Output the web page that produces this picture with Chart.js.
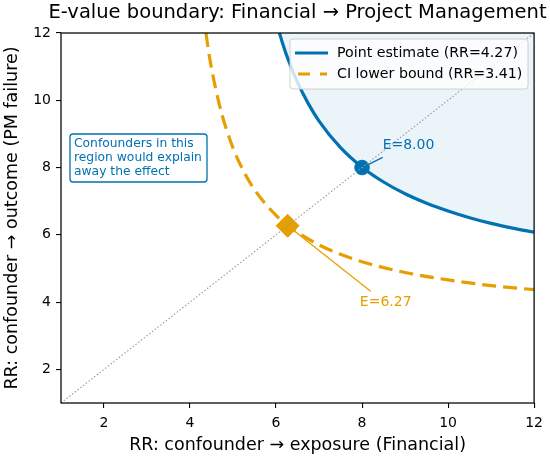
<!DOCTYPE html>
<html>
<head>
<meta charset="utf-8">
<script src="https://cdn.jsdelivr.net/npm/chart.js@4"></script>
<style>
  html, body { margin: 0; padding: 0; background: #fff; }
  #wrap { width: 550px; height: 458px; }
</style>
</head>
<body>
<div id="wrap"><canvas id="evalueChart"></canvas></div>
<script>
// values
const xTicks = [2, 4, 6, 8, 10, 12];
const yTicks = [2, 4, 6, 8, 10, 12];

const pointX = [6.08, 6.15, 6.25, 6.5, 6.75, 7, 7.5, 8, 8.5, 9, 9.5, 10, 10.5, 11, 11.5, 12];
const pointY = [12, 11.70, 11.32, 10.53, 9.90, 9.38, 8.59, 8.01, 7.57, 7.22, 6.94, 6.71, 6.51, 6.34, 6.20, 6.08];

const ciX = [4.37, 4.45, 4.5, 4.6, 4.75, 5, 5.25, 5.5, 6, 6.27, 6.5, 7, 7.5, 8, 9, 10, 11, 12];
const ciY = [12, 11.31, 10.95, 10.32, 9.54, 8.58, 7.88, 7.34, 6.58, 6.28, 6.07, 5.70, 5.42, 5.20, 4.88, 4.66, 4.49, 4.37];

const diagonal = [1, 12];
const eValues = [8.00, 6.27];           // point estimate, CI lower bound
const eLabels = ['E=8.00', 'E=6.27'];
const eLabelPos = [[9.08, 8.66], [8.55, 4.0]];
const eLeaderEnd = [[8.48, 8.3], [8.2, 4.32]];

const blue = '#0072B2';
const orange = '#E69F00';
const fontFamily = 'DejaVu Sans';

function pairs(xs, ys) {
  return xs.map((x, i) => ({ x: x, y: ys[i] }));
}

// legend, annotations, frame and title drawn on top
const overlay = {
  id: 'overlay',
  afterDraw(chart) {
    const ctx = chart.ctx;
    const a = chart.chartArea;
    const xs = chart.scales.x, ys = chart.scales.y;
    ctx.save();

    // frame
    ctx.strokeStyle = '#000';
    ctx.lineWidth = 1.25;
    ctx.strokeRect(a.left, a.top, a.right - a.left, a.bottom - a.top);

    // title
    ctx.fillStyle = '#000';
    ctx.font = '19.5px ' + fontFamily;
    ctx.textAlign = 'center';
    ctx.textBaseline = 'middle';
    ctx.fillText('E-value boundary: Financial \u2192 Project Management', (a.left + a.right) / 2, 13);

    // E-value labels
    ctx.font = '14px ' + fontFamily;
    ctx.fillStyle = blue;
    ctx.fillText(eLabels[0], xs.getPixelForValue(eLabelPos[0][0]), ys.getPixelForValue(eLabelPos[0][1]));
    ctx.fillStyle = orange;
    ctx.fillText(eLabels[1], xs.getPixelForValue(eLabelPos[1][0]), ys.getPixelForValue(eLabelPos[1][1]));

    // text box
    const bx = a.left + 9, by = a.top + 101, bw = 137, bh = 48;
    ctx.beginPath();
    ctx.roundRect(bx, by, bw, bh, 3);
    ctx.fillStyle = '#fff';
    ctx.fill();
    ctx.strokeStyle = blue;
    ctx.lineWidth = 1.3;
    ctx.stroke();
    ctx.fillStyle = blue;
    ctx.font = '12.3px ' + fontFamily;
    ctx.textAlign = 'left';
    ['Confounders in this', 'region would explain', 'away the effect'].forEach((t, i) => {
      ctx.fillText(t, bx + 4, by + 10 + i * 14);
    });

    // legend
    const lx = a.left + 229, ly = a.top + 6, lw = 238, lh = 50;
    ctx.beginPath();
    ctx.roundRect(lx, ly, lw, lh, 3);
    ctx.fillStyle = 'rgba(255,255,255,0.8)';
    ctx.fill();
    ctx.strokeStyle = '#d0d0d0';
    ctx.lineWidth = 1;
    ctx.stroke();
    ctx.lineWidth = 3;
    ctx.lineCap = 'butt';
    ctx.strokeStyle = blue;
    ctx.beginPath();
    ctx.moveTo(lx + 5, ly + 14); ctx.lineTo(lx + 38, ly + 14);
    ctx.stroke();
    ctx.strokeStyle = orange;
    ctx.setLineDash([12, 10]);
    ctx.beginPath();
    ctx.moveTo(lx + 8, ly + 35); ctx.lineTo(lx + 37, ly + 35);
    ctx.stroke();
    ctx.setLineDash([]);
    ctx.fillStyle = '#000';
    ctx.font = '14.2px ' + fontFamily;
    ctx.fillText('Point estimate (RR=4.27)', lx + 47, ly + 14);
    ctx.fillText('CI lower bound (RR=3.41)', lx + 47, ly + 35);

    ctx.restore();
  }
};

const axisCommon = (ticks, title) => ({
  type: 'linear',
  min: 1,
  max: 12,
  afterBuildTicks: s => { s.ticks = ticks.map(v => ({ value: v })); },
  grid: { drawOnChartArea: false, drawTicks: true, tickLength: 5, color: '#000', lineWidth: 1.1 },
  border: { display: false },
  ticks: { color: '#000', font: { family: fontFamily, size: 14 }, padding: 5, maxRotation: 0 },
  title: { display: true, text: title, color: '#000', font: { family: fontFamily, size: 17.5 }, padding: { top: 2, bottom: 2 } }
});

const xAxis = axisCommon(xTicks, 'RR: confounder \u2192 exposure (Financial)');
xAxis.ticks.padding = 7;
xAxis.afterFit = s => { s.height = 55; };
const yAxis = axisCommon(yTicks, 'RR: confounder \u2192 outcome (PM failure)');
yAxis.afterFit = s => { s.width = 61; };

new Chart(document.getElementById('evalueChart'), {
  type: 'scatter',
  data: {
    datasets: [
      {
        label: 'diagonal',
        data: pairs(diagonal, diagonal),
        showLine: true,
        borderColor: '#999999',
        borderWidth: 1.1,
        borderDash: [1.5, 2],
        pointRadius: 0
      },
      {
        label: 'Point estimate (RR=4.27)',
        data: pairs(pointX, pointY),
        showLine: true,
        borderColor: blue,
        borderWidth: 3.2,
        backgroundColor: 'rgba(0,114,178,0.08)',
        fill: 'end',
        cubicInterpolationMode: 'monotone',
        pointRadius: 0
      },
      {
        label: 'CI lower bound (RR=3.41)',
        data: pairs(ciX, ciY),
        showLine: true,
        borderColor: orange,
        borderWidth: 3.2,
        borderDash: [14, 7],
        cubicInterpolationMode: 'monotone',
        pointRadius: 0
      },
      {
        label: 'leader point',
        data: [{ x: eValues[0], y: eValues[0] }, { x: eLeaderEnd[0][0], y: eLeaderEnd[0][1] }],
        showLine: true,
        borderColor: blue,
        borderWidth: 1.3,
        pointRadius: 0
      },
      {
        label: 'leader ci',
        data: [{ x: eValues[1], y: eValues[1] }, { x: eLeaderEnd[1][0], y: eLeaderEnd[1][1] }],
        showLine: true,
        borderColor: orange,
        borderWidth: 1.3,
        pointRadius: 0
      },
      {
        label: 'E point',
        data: [{ x: eValues[0], y: eValues[0] }],
        pointStyle: 'circle',
        pointRadius: 7.3,
        backgroundColor: blue,
        borderColor: blue
      },
      {
        label: 'E ci',
        data: [{ x: eValues[1], y: eValues[1] }],
        pointStyle: 'rectRot',
        pointRadius: 11.5,
        backgroundColor: orange,
        borderColor: orange
      }
    ]
  },
  options: {
    responsive: true,
    maintainAspectRatio: false,
    animation: false,
    layout: { padding: { top: 33, right: 13, left: 0, bottom: 0 } },
    plugins: { legend: { display: false }, tooltip: { enabled: false } },
    scales: { x: xAxis, y: yAxis }
  },
  plugins: [overlay]
});
</script>
</body>
</html>
